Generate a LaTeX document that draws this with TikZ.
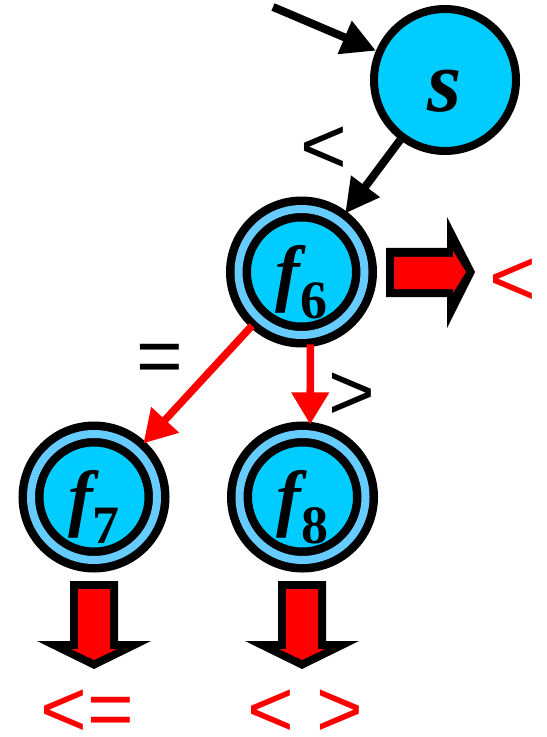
\documentclass[tikz,border=0pt]{standalone}
\usepackage{fontspec}
\setmainfont{Liberation Serif}
\newfontfamily\arialfont{Liberation Sans}
\usetikzlibrary{arrows.meta}
\definecolor{skyfill}{HTML}{00CCFF}
\definecolor{ringblue}{HTML}{66CCFF}
\newcommand{\fvar}[1]{{\fontsize{37}{37}\selectfont\bfseries\itshape f}\raisebox{-10.5pt}{\fontsize{27}{27}\selectfont\bfseries #1}}

\begin{document}
\begin{tikzpicture}[x=0.5pt,y=-0.5pt,
  snode/.style={circle,draw=black,line width=4pt,fill=skyfill,minimum size=71pt,inner sep=0pt,
    text height=32pt,text depth=0pt,font=\fontsize{44}{44}\selectfont\bfseries\itshape},
  fnode/.style={circle,draw=black,line width=4.25pt,double=ringblue,double distance=4pt,fill=skyfill,
    minimum size=63pt,inner sep=0pt,outer sep=5pt,text height=25pt,text depth=0pt},
  blackedge/.style={line width=4pt,-{Triangle[length=17pt,width=17pt]}},
  rededge/.style={red,line width=3.75pt,-{Triangle[length=16pt,width=18pt]}},
  oplabel/.style={inner sep=0pt,font=\arialfont\fontsize{40}{40}\selectfont}]
  \useasboundingbox (0,0) rectangle (546,737);

  % States
  \node[snode] (s) at (445,80) {s};
  \node[fnode] (f6) at (301.5,272) {\fvar{6}};
  \node[fnode] (f7) at (94,497) {\fvar{7}};
  \node[fnode] (f8) at (302.5,497) {\fvar{8}};
  \coordinate (entry) at (273,7);

  % Transitions
  \draw[blackedge] (entry) -- (s);
  \draw[blackedge] (s) -- (f6);
  \draw[rededge] (f6) -- (f7);
  \draw[rededge] (f6.-83) -- (f8.84);

  % Edge labels
  \node[oplabel] (lt) at (324,150) {<};
  \node[oplabel] (eq) at (160,364) {=};
  \node[oplabel] (gt) at (352,396) {>};

  % Output arrows
  \fill[black] (386,248) -- (447,248) -- (447,217) -- (475,272) -- (447,328) -- (447,297) -- (386,297) -- cycle;
  \fill[red] (394,257) -- (453,257) -- (453,251) -- (466,272) -- (453,293) -- (453,289) -- (394,289) -- cycle;
  \foreach \cx in {94,302} {
    \fill[black] (\cx-24,581) -- (\cx+24,581) -- (\cx+24,641) -- (\cx+57,641) -- (\cx,669) -- (\cx-57,641) -- (\cx-24,641) -- cycle;
    \fill[red] (\cx-16,589) -- (\cx+16,589) -- (\cx+16,649) -- (\cx+23,649) -- (\cx,660) -- (\cx-23,649) -- (\cx-16,649) -- cycle;
  }

  % Outputs
  \node[oplabel,text=red] (out6) at (513,282) {<};
  \node[oplabel,text=red] (out7) at (87,713) {<=};
  \node[oplabel,text=red] (out8) at (305,713) {< >};
\end{tikzpicture}
\end{document}
